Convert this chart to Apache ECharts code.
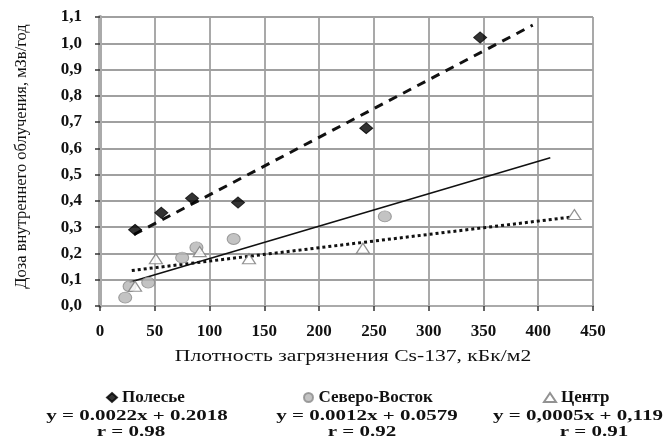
<!DOCTYPE html>
<html>
<head>
<meta charset="utf-8">
<script src="https://cdn.jsdelivr.net/npm/echarts@6/dist/echarts.min.js"></script>
<style>
html,body{margin:0;padding:0;background:#fff;}
#chart{width:667px;height:443px;}
</style>
</head>
<body>
<div id="chart"></div>
<script>
// ---- data ----
const seriesNames = ['Полесье', 'Северо-Восток', 'Центр'];
const polesyeX = [32, 56, 84, 126, 243, 347];
const polesyeY = [0.29, 0.355, 0.41, 0.394, 0.677, 1.022];
const severoX = [23, 27, 44, 75, 88, 122, 260];
const severoY = [0.032, 0.075, 0.089, 0.184, 0.223, 0.255, 0.341];
const centrX = [32, 51, 91, 136, 240, 433];
const centrY = [0.075, 0.18, 0.207, 0.18, 0.22, 0.348];
// trend line end points (as drawn)
const polesyeTrendX = [31, 395];
const polesyeTrendY = [0.272, 1.069];
const severoTrendX = [27, 411];
const severoTrendY = [0.09, 0.564];
const centrTrendX = [29, 429];
const centrTrendY = [0.135, 0.338];
const yTickLabels = ['0,0','0,1','0,2','0,3','0,4','0,5','0,6','0,7','0,8','0,9','1,0','1,1'];
const xTickLabels = ['0','50','100','150','200','250','300','350','400','450'];
const equations = ['y = 0.0022x + 0.2018', 'y = 0.0012x + 0.0579', 'y = 0,0005x + 0,119'];
const rValues = ['r = 0.98', 'r = 0.92', 'r = 0.91'];
const xTitle = 'Плотность загрязнения Cs-137, кБк/м2';
const yTitle = 'Доза внутреннего облучения, мЗв/год';

const zip = (xs, ys) => xs.map((x, i) => [x, ys[i]]);
const FONT = '"Liberation Serif", "DejaVu Serif", serif';
const legendText = { fontFamily: FONT, fontSize: 17, fontWeight: 'bold', color: '#111' };

function txt(s, x, y, font, sx) {
  return { type: 'text', x: x, y: y, scaleX: sx, style: { text: s, align: 'center', verticalAlign: 'middle', font: font, fill: '#111' } };
}

const chart = echarts.init(document.getElementById('chart'));
const option = {
  backgroundColor: '#ffffff',
  animation: false,
  grid: { left: 100, right: 74, top: 17, bottom: 137, show: false },
  xAxis: [{
    type: 'value', min: 0, max: 450, interval: 50,
    axisLine: { show: true, lineStyle: { color: '#333', width: 2 } },
    axisTick: { show: true, inside: false, length: 5, lineStyle: { color: '#333', width: 1.5 } },
    axisLabel: { fontFamily: FONT, fontSize: 17, fontWeight: 'bold', color: '#111', margin: 17,
      formatter: (v) => xTickLabels[Math.round(v / 50)] },
    splitLine: { show: true, lineStyle: { color: '#a0a0a0', width: 1.8 } }
  }, {
    type: 'value', min: 0, max: 450, interval: 50, position: 'top',
    axisLine: { show: true, lineStyle: { color: '#aaaaaa', width: 2 } },
    axisTick: { show: false }, axisLabel: { show: false }, splitLine: { show: false }
  }],
  yAxis: [{
    type: 'value', min: 0, max: 1.1, interval: 0.1,
    name: yTitle, nameLocation: 'middle', nameGap: 70, nameRotate: 90,
    nameTextStyle: { fontFamily: FONT, fontSize: 16.5, color: '#111', padding: [0, 0, 0, 10] },
    axisLine: { show: true, lineStyle: { color: '#555', width: 3 } },
    axisTick: { show: true, inside: false, length: 5, lineStyle: { color: '#333', width: 1.5 } },
    axisLabel: { fontFamily: FONT, fontSize: 17, fontWeight: 'bold', color: '#111', margin: 18,
      formatter: (v) => yTickLabels[Math.round(v * 10)] },
    splitLine: { show: true, lineStyle: { color: '#a0a0a0', width: 1.8 } }
  }, {
    type: 'value', min: 0, max: 1.1, interval: 0.1, position: 'right',
    axisLine: { show: true, lineStyle: { color: '#aaaaaa', width: 4 } },
    axisTick: { show: false }, axisLabel: { show: false }, splitLine: { show: false }
  }],
  legend: [
    { data: [{ name: seriesNames[0], icon: 'diamond' }], left: 101, top: 384, itemWidth: 10, itemHeight: 9, itemGap: 4, textStyle: legendText },
    { data: [{ name: seriesNames[1], icon: 'circle' }], left: 298, top: 384, itemWidth: 10, itemHeight: 9, itemGap: 4, textStyle: legendText },
    { data: [{ name: seriesNames[2], icon: 'triangle' }], left: 538, top: 384, itemWidth: 12, itemHeight: 9, itemGap: 4, textStyle: legendText }
  ],
  graphic: [
    txt(xTitle, 353, 357, '16px ' + FONT, 1.35),
    txt(equations[0], 137, 416, 'bold 15px ' + FONT, 1.4),
    txt(equations[1], 367, 416, 'bold 15px ' + FONT, 1.4),
    txt(equations[2], 578, 416, 'bold 15px ' + FONT, 1.4),
    txt(rValues[0], 131, 432, 'bold 15px ' + FONT, 1.4),
    txt(rValues[1], 362, 432, 'bold 15px ' + FONT, 1.4),
    txt(rValues[2], 594, 432, 'bold 15px ' + FONT, 1.4)
  ],
  series: [
    { name: seriesNames[0] + ' trend', type: 'line', data: zip(polesyeTrendX, polesyeTrendY), symbol: 'none', silent: true,
      lineStyle: { color: '#111', width: 3, type: [9, 7] }, z: 3 },
    { name: seriesNames[1] + ' trend', type: 'line', data: zip(severoTrendX, severoTrendY), symbol: 'none', silent: true,
      lineStyle: { color: '#111', width: 1.6, type: 'solid' }, z: 3 },
    { name: seriesNames[2] + ' trend', type: 'line', data: zip(centrTrendX, centrTrendY), symbol: 'none', silent: true,
      lineStyle: { color: '#111', width: 3, type: [3, 3] }, z: 3 },
    { name: seriesNames[0], type: 'scatter', data: zip(polesyeX, polesyeY), symbol: 'diamond', symbolSize: [13, 11],
      itemStyle: { color: '#000', borderColor: '#000', borderWidth: 1 }, z: 5 },
    { name: seriesNames[1], type: 'scatter', data: zip(severoX, severoY), symbol: 'circle', symbolSize: [13, 11],
      itemStyle: { color: '#b4b4b4', borderColor: '#8a8a8a', borderWidth: 1 }, z: 5 },
    { name: seriesNames[2], type: 'scatter', data: zip(centrX, centrY), symbol: 'triangle', symbolSize: [13, 10],
      itemStyle: { color: '#fff', borderColor: '#777', borderWidth: 1.2 }, z: 5 }
  ]
};
chart.setOption(option);
</script>
</body>
</html>
